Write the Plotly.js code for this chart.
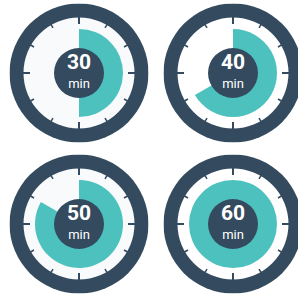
<!DOCTYPE html>
<html><head><meta charset="utf-8">
<script src="https://cdn.plot.ly/plotly-3.0.1.min.js"></script>
<style>html,body{margin:0;padding:0;overflow:hidden;background:#fff}</style>
</head><body><div id="chart"></div>
<script>
// Data
const minutes = [30, 40, 50, 60];
const labels = ['30', '40', '50', '60'];
const unitLabel = 'min';
const totalMinutes = 60;
const dialMarks = [0, 30, 60, 90, 120, 150, 180, 210, 240, 270, 300, 330];
const faceColors = ['#f8fafc', '#ffffff', '#f8fafc', '#ffffff'];

// Layout geometry (pixels)
const W = 310, H = 297;
const centers = [[79, 73], [233, 73], [79, 224], [233, 224]];
const R = 69.5, RIN = 55.5, RFILL = 44, RHUB = 25;
const navy = '#344a5e', teal = '#4dc1bd';

const data = [];
const layout = {
  width: W, height: H, margin: {l: 0, r: 0, t: 0, b: 0},
  paper_bgcolor: '#ffffff', showlegend: false
};

minutes.forEach((m, i) => {
  const id = i === 0 ? 'polar' : 'polar' + (i + 1);
  const [cx, cy] = centers[i];
  layout[id] = {
    domain: {x: [(cx - R) / W, (cx + R) / W], y: [(H - cy - R) / H, (H - cy + R) / H]},
    bgcolor: faceColors[i],
    bargap: 0,
    radialaxis: {range: [0, R], visible: false, showgrid: false},
    angularaxis: {visible: false, showgrid: false, rotation: 90, direction: 'clockwise'}
  };
  const span = m / totalMinutes * 360;
  // outer ring
  data.push({type: 'barpolar', subplot: id, r: [R - RIN + 1], base: [RIN], theta: [180], width: [360],
    marker: {color: navy, line: {width: 0}}, hoverinfo: 'skip'});
  // elapsed wedge
  data.push({type: 'barpolar', subplot: id, r: [RFILL], base: [0], theta: [span / 2], width: [span],
    marker: {color: teal, line: {width: 0}}, hoverinfo: 'skip'});
  // hub
  data.push({type: 'barpolar', subplot: id, r: [RHUB], base: [0], theta: [180], width: [360],
    marker: {color: navy, line: {width: 0}}, hoverinfo: 'skip'});
  // dial marks
  const majR = [], majT = [], minR = [], minT = [];
  dialMarks.forEach(a => {
    if (a % 90 === 0) { majR.push(RIN + 1, RIN - 6.5, null); majT.push(a, a, null); }
    else { minR.push(RIN + 1, RIN - 3.5, null); minT.push(a, a, null); }
  });
  data.push({type: 'scatterpolar', subplot: id, mode: 'lines', r: majR, theta: majT,
    line: {color: navy, width: 2}, hoverinfo: 'skip', connectgaps: false});
  data.push({type: 'scatterpolar', subplot: id, mode: 'lines', r: minR, theta: minT,
    line: {color: navy, width: 1.5}, hoverinfo: 'skip', connectgaps: false});
  // labels
  data.push({type: 'scatterpolar', subplot: id, mode: 'text', r: [9], theta: [0], text: [labels[i]],
    textposition: 'middle center',
    textfont: {family: 'Roboto, Open Sans, sans-serif', size: 21, color: '#ffffff', weight: 'bold'}, hoverinfo: 'skip'});
  data.push({type: 'scatterpolar', subplot: id, mode: 'text', r: [11.5], theta: [180], text: [unitLabel],
    textposition: 'middle center',
    textfont: {family: 'Roboto, Open Sans, sans-serif', size: 13, color: '#ffffff'}, hoverinfo: 'skip'});
});

Plotly.newPlot('chart', data, layout, {displayModeBar: false, staticPlot: true});
</script>
</body></html>
